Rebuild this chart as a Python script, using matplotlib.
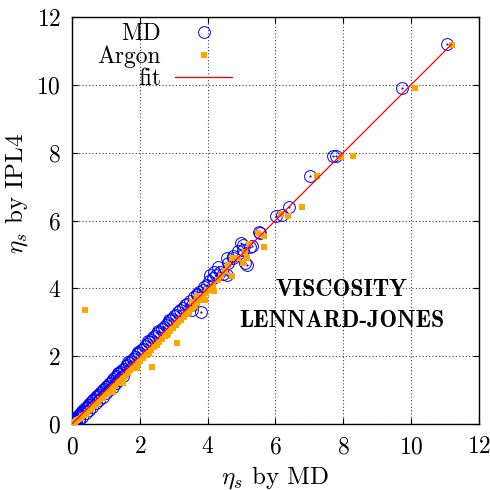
import matplotlib
matplotlib.use("Agg")
import matplotlib.pyplot as plt
from matplotlib.lines import Line2D

plt.rcParams["font.family"] = "cmr10"
plt.rcParams["mathtext.fontset"] = "cm"
plt.rcParams["axes.formatter.use_mathtext"] = True

# MD viscosity vs IPL4 viscosity
md_x = [0.02, 0.05, 0.08, 0.1, 0.12, 0.15, 0.18, 0.2, 0.23, 0.26, 0.3, 0.33, 0.36, 0.4, 0.43,
        0.47, 0.5, 0.54, 0.58, 0.62, 0.66, 0.7, 0.74, 0.78, 0.82, 0.86, 0.9, 0.95, 1.0,
        1.04, 1.08, 1.12, 1.17, 1.22, 1.27, 1.32, 1.37, 1.42, 1.47, 1.52, 1.58, 1.63,
        1.68, 1.74, 1.8, 1.86, 1.92, 1.98, 2.04, 2.1, 2.16, 2.22, 2.28, 2.34, 2.4, 2.46,
        2.52, 2.58, 2.64, 2.7, 2.76, 2.82, 2.88, 2.94, 3.0, 3.07, 3.14, 3.2, 3.27, 3.34,
        3.4, 3.47, 3.53, 3.55, 3.6, 3.68, 3.68, 3.75, 3.82, 3.85, 3.9, 3.97, 4.05, 4.07,
        4.15, 4.2, 4.25, 4.32, 4.37, 4.45, 4.56, 4.56, 4.6, 4.76, 4.76, 4.9, 5.0, 5.05,
        5.05, 5.1, 5.15, 5.25, 5.3, 5.53, 5.55, 6.02, 6.19, 6.41, 7.03, 7.69, 7.79,
        9.75, 11.05, 0.06, 0.12, 0.2,
        0.1, 0.2, 0.3, 0.4, 0.5, 0.6, 0.7, 0.8, 0.9, 1.0, 1.1, 1.2, 1.3, 1.4, 1.5,
        1.35, 1.65, 1.95, 2.25, 2.55, 2.85]
md_y = [0.04, 0.10, 0.12, 0.16, 0.15, 0.2, 0.24, 0.25, 0.3, 0.32, 0.37, 0.38, 0.44, 0.47, 0.5,
        0.55, 0.57, 0.62, 0.66, 0.7, 0.73, 0.79, 0.82, 0.86, 0.91, 0.94, 0.99, 1.04, 1.09,
        1.13, 1.17, 1.22, 1.27, 1.31, 1.38, 1.42, 1.48, 1.52, 1.59, 1.63, 1.7, 1.74,
        1.8, 1.86, 1.92, 1.98, 2.05, 2.1, 2.17, 2.22, 2.3, 2.35, 2.42, 2.48, 2.55, 2.6,
        2.67, 2.72, 2.8, 2.85, 2.93, 2.98, 3.05, 3.1, 3.17, 3.22, 3.3, 3.36, 3.42, 3.5,
        3.55, 3.62, 3.36, 3.52, 3.75, 3.82, 3.8, 3.9, 3.31, 3.95, 4.05, 4.1, 4.22, 4.4,
        4.3, 4.48, 4.4, 4.64, 4.49, 4.43, 4.89, 4.4, 4.75, 4.89, 4.94, 5.1, 5.33, 5.13,
        5.28, 4.74, 4.69, 5.23, 5.25, 5.67, 5.63, 6.14, 6.17, 6.41, 7.32, 7.91, 7.9,
        9.92, 11.2, 0.02, 0.06, 0.13,
        0.02, 0.11, 0.21, 0.31, 0.41, 0.5, 0.61, 0.71, 0.8, 0.91, 1.0, 1.1, 1.21, 1.3, 1.41,
        1.5, 1.82, 2.12, 2.44, 2.74, 3.05]

# Argon experiment vs IPL4 viscosity
ar_x = [0.08, 0.12, 0.15, 0.2, 0.25, 0.3, 0.35, 0.4, 0.45, 0.5, 0.55, 0.6, 0.66, 0.72, 0.78,
        0.84, 0.9, 0.96, 0.97, 1.02, 1.08, 1.15, 1.22, 1.22, 1.28, 1.35, 1.42, 1.5, 1.51,
        1.5, 1.58, 1.65, 1.72, 1.8, 1.91, 1.88, 1.95, 2.02, 2.1, 2.18, 2.26, 2.35, 2.34,
        2.42, 2.5, 2.58, 2.66, 2.74, 2.79, 2.82, 2.9, 2.98, 3.09, 3.06, 3.14, 3.22, 3.3,
        3.38, 3.46, 3.55, 3.54, 3.62, 3.68, 3.7, 3.78, 3.92, 3.86, 3.95, 3.97, 4.05, 4.19,
        4.15, 4.3, 4.4, 4.5, 4.71, 4.6, 4.71, 4.9, 5.05, 5.1, 5.17, 5.23, 5.5, 5.67, 5.67,
        6.16, 6.37, 6.8, 7.23, 7.95, 8.29, 10.11, 11.22, 0.38]
ar_y = [0.05, 0.08, 0.1, 0.14, 0.17, 0.22, 0.26, 0.3, 0.34, 0.4, 0.43, 0.49, 0.53, 0.6, 0.64,
        0.72, 0.76, 0.84, 0.86, 0.88, 0.95, 1.0, 1.08, 0.95, 1.12, 1.2, 1.26, 1.22, 1.2,
        1.36, 1.42, 1.5, 1.58, 1.64, 1.64, 1.72, 1.8, 1.86, 1.95, 2.02, 2.1, 1.67, 2.18,
        2.27, 2.33, 2.42, 2.5, 2.58, 2.63, 2.66, 2.75, 2.82, 2.38, 2.92, 3.0, 3.06, 3.15,
        3.24, 3.3, 3.61, 3.4, 3.48, 3.76, 3.56, 3.66, 3.64, 3.75, 3.85, 3.95, 3.95, 3.93,
        4.08, 4.25, 4.35, 4.5, 4.35, 4.7, 4.89, 4.89, 4.74, 5.08, 4.89, 5.31, 5.64, 5.53, 5.23,
        6.19, 6.14, 6.41, 7.3, 7.88, 7.91, 9.92, 11.19, 3.36]

# fitted line
fit_x = [0.0, 11.2]
fit_y = [0.0, 11.2]

fig = plt.figure(figsize=(4.9, 4.9), dpi=100)
ax = fig.add_axes([0.147, 0.135, 0.83, 0.83])

ax.plot(md_x, md_y, "o", mfc="none", mec="blue", ms=8.5, mew=0.7, zorder=3)
ax.plot(md_x, md_y, ".", color="blue", ms=1.2, zorder=3)
ax.plot(ar_x, ar_y, "s", color="orange", ms=5, mew=0, zorder=4)
ax.plot(fit_x, fit_y, "-", color="red", lw=0.9, zorder=5)

ax.set_xlim(0, 12)
ax.set_ylim(0, 12)
ax.set_xticks(range(0, 13, 2))
ax.set_yticks(range(0, 13, 2))
ax.tick_params(direction="in", length=4.5, width=0.8, top=True, right=True, labelsize=17)
ax.tick_params(axis="x", pad=9)
ax.tick_params(axis="y", pad=8)
ax.grid(True, color="0.25", linestyle=(0, (1, 2)), linewidth=0.8)
for s in ax.spines.values():
    s.set_linewidth(1.0)

ax.set_xlabel(r"$\eta_s$ by MD", fontsize=18, va="center")
ax.xaxis.set_label_coords(0.5, -0.132)
ax.set_ylabel(r"$\eta_s$ by IPL4", fontsize=18, va="center")
ax.yaxis.set_label_coords(-0.137, 0.567)

ax.text(7.96, 3.95, "VISCOSITY", family="cmb10", fontsize=17, ha="center", va="center")
ax.text(7.96, 3.02, "LENNARD-JONES", family="cmb10", fontsize=17, ha="center", va="center")

handles = [
    Line2D([], [], marker="o", ls="none", mfc="none", mec="blue", ms=8.5, mew=0.7),
    Line2D([], [], marker="s", ls="none", color="orange", ms=5, mew=0),
    Line2D([], [], color="red", lw=0.9),
]
ax.legend(handles, ["MD", "Argon", "fit"], loc="upper right", bbox_to_anchor=(0.393, 0.985),
          markerfirst=False, frameon=False, fontsize=17, handlelength=2.4,
          labelspacing=0.0, handletextpad=0.6, borderaxespad=0, borderpad=0)

fig.savefig("out.png", dpi=100)
